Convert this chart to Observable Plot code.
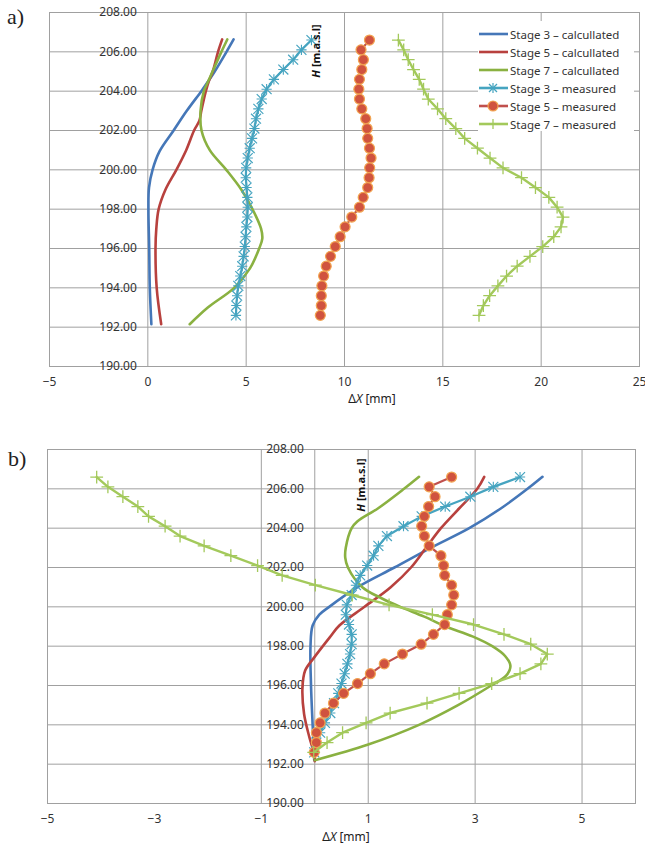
<!DOCTYPE html>
<html><head><meta charset="utf-8">
<script src="https://cdn.jsdelivr.net/npm/d3@7"></script>
<script src="https://cdn.jsdelivr.net/npm/@observablehq/plot@0.6"></script>
<style>
body{margin:0;background:#fff;font-family:"Noto Sans",sans-serif;}
#wrap{position:relative;width:645px;height:844px;overflow:hidden;background:#fff;}
.panel{position:absolute;left:0;}
.plab{position:absolute;font-family:"Liberation Serif","DejaVu Serif",serif;font-size:22px;color:#222;line-height:1;}
.hlab{position:absolute;font-family:"Noto Sans",sans-serif;font-weight:bold;font-size:11px;color:#111;transform:translate(-50%,-50%) rotate(-90deg);white-space:nowrap;}
.xlab{position:absolute;font-family:"Noto Sans",sans-serif;font-size:12px;color:#222;transform:translate(-50%,-50%);white-space:nowrap;}
#legend{position:absolute;left:478px;top:21px;width:156px;height:110px;background:#fff;font-family:"Noto Sans",sans-serif;font-size:11.5px;color:#333;}
.lrow{position:absolute;left:0;height:18px;display:flex;align-items:center;white-space:nowrap;}
.lrow svg{margin-right:1px;}
</style>
</head><body>
<div id="wrap"></div>
<script>
// ---------- data ----------
const measuredH = [206.6, 206.1, 205.6, 205.1, 204.6, 204.1, 203.6, 203.1, 202.6, 202.1, 201.6, 201.1, 200.6, 200.1, 199.6, 199.1, 198.6, 198.1, 197.6, 197.1, 196.6, 196.1, 195.6, 195.1, 194.6, 194.1, 193.6, 193.1, 192.6];

// panel a
const aS3calcH = [206.63, 206.0, 205.0, 204.5, 204.0, 203.0, 202.0, 200.95, 200.0, 199.1, 198.0, 196.0, 194.0, 192.15];
const aS3calcX = [4.36, 4.0, 3.4, 3.07, 2.72, 1.98, 1.31, 0.6, 0.24, 0.06, 0.03, 0.07, 0.1, 0.18];
const aS5calcH = [206.63, 206.0, 205.0, 204.5, 204.0, 203.0, 202.5, 202.0, 201.0, 200.0, 199.0, 198.0, 197.0, 196.0, 194.0, 192.15];
const aS5calcX = [3.78, 3.57, 3.30, 3.10, 2.95, 2.72, 2.62, 2.35, 1.95, 1.45, 0.90, 0.55, 0.43, 0.39, 0.45, 0.68];
const aS7calcH = [206.63, 206.0, 205.0, 204.5, 204.0, 203.0, 202.0, 201.0, 200.0, 199.0, 198.0, 197.0, 196.5, 196.0, 195.0, 194.0, 193.0, 192.15];
const aS7calcX = [4.04, 3.74, 3.29, 3.07, 2.85, 2.68, 2.73, 3.15, 3.99, 4.75, 5.32, 5.76, 5.82, 5.66, 5.2, 4.39, 3.05, 2.13];
const aS3meas = [8.32, 7.81, 7.39, 6.89, 6.41, 6.04, 5.79, 5.62, 5.50, 5.42, 5.30, 5.18, 5.08, 5.00, 4.98, 5.02, 5.06, 5.08, 5.06, 5.01, 4.97, 4.93, 4.87, 4.80, 4.70, 4.60, 4.54, 4.50, 4.48];
const aS5meas = [11.27, 10.84, 10.96, 10.88, 10.76, 10.73, 10.76, 10.88, 11.08, 11.15, 11.18, 11.27, 11.35, 11.28, 11.25, 11.18, 10.95, 10.76, 10.37, 10.03, 9.78, 9.53, 9.29, 9.07, 8.94, 8.85, 8.82, 8.82, 8.77];
const aS7meas = [12.74, 13.01, 13.24, 13.51, 13.80, 14.02, 14.26, 14.73, 15.15, 15.66, 16.11, 16.76, 17.40, 18.06, 19.00, 19.71, 20.39, 20.81, 21.11, 21.01, 20.64, 20.08, 19.43, 18.78, 18.24, 17.80, 17.38, 17.06, 16.84];

// panel b
const bS3calcH = [206.61, 206.0, 205.0, 204.0, 203.0, 202.0, 201.0, 200.0, 199.6, 199.05, 198.0, 196.0, 194.0, 192.2];
const bS3calcX = [4.26, 3.98, 3.48, 2.89, 2.17, 1.49, 0.80, 0.27, 0.085, -0.04, -0.08, -0.07, -0.04, -0.01];
const bS5calcH = [206.61, 206.0, 205.0, 204.0, 203.0, 202.0, 201.0, 200.0, 199.05, 198.45, 197.43, 196.76, 195.9, 194.55, 193.36, 192.5, 192.15];
const bS5calcX = [3.17, 3.04, 2.70, 2.36, 2.08, 1.80, 1.42, 0.93, 0.46, 0.28, -0.01, -0.18, -0.23, -0.20, -0.10, -0.01, 0.0];
const bS7calcH = [206.61, 206.0, 205.0, 204.35, 204.0, 203.0, 202.5, 202.0, 201.0, 200.45, 200.0, 199.5, 199.0, 198.5, 198.0, 197.5, 197.0, 196.5, 196.0, 195.0, 194.0, 193.0, 192.2];
const bS7calcX = [1.95, 1.67, 1.18, 0.80, 0.69, 0.58, 0.57, 0.62, 0.89, 1.24, 1.6, 2.05, 2.45, 2.95, 3.32, 3.56, 3.66, 3.58, 3.30, 2.68, 1.95, 1.0, 0.0];
const bS3meas = [3.84, 3.34, 2.91, 2.44, 2.00, 1.66, 1.35, 1.19, 1.10, 0.98, 0.85, 0.77, 0.69, 0.60, 0.58, 0.64, 0.69, 0.69, 0.66, 0.61, 0.56, 0.50, 0.44, 0.36, 0.29, 0.19, 0.10, 0.03, -0.01];
const bS5meas = [2.56, 2.14, 2.25, 2.13, 2.05, 2.00, 2.05, 2.14, 2.36, 2.41, 2.43, 2.56, 2.60, 2.56, 2.48, 2.43, 2.22, 1.99, 1.64, 1.30, 1.04, 0.80, 0.54, 0.35, 0.19, 0.10, 0.03, 0.03, -0.01];
const bS7meas = [-4.08, -3.87, -3.59, -3.31, -3.11, -2.80, -2.52, -2.07, -1.57, -1.07, -0.61, 0.01, 0.70, 1.39, 2.20, 2.97, 3.54, 4.04, 4.35, 4.23, 3.84, 3.31, 2.70, 2.10, 1.41, 0.96, 0.52, 0.23, -0.02];

// ticks
const yTicks = [190, 192, 194, 196, 198, 200, 202, 204, 206, 208];
const xTicksA = [-5, 0, 5, 10, 15, 20, 25];
const xGridA = [0, 5, 10, 15, 20];
const xTicksB = [-5, -3, -1, 1, 3, 5];
const xGridB = [-1, 0, 1, 3, 5];

const seriesNames = ["Stage 3 \u2013 calcullated", "Stage 5 \u2013 calcullated", "Stage 7 \u2013 calcullated", "Stage 3 \u2013 measured", "Stage 5 \u2013 measured", "Stage 7 \u2013 measured"];

// ---------- styles ----------
const C = {s3c: "#4577B8", s5c: "#B8413E", s7c: "#8AB141", s3m: "#46A4C0", s5mLine: "#C0504D", s5mFill: "#D0533F", s5mStroke: "#F2A451", s7m: "#A3C95B"};
const GRID = "#a0a0a0";
const fmtX = d => d < 0 ? "\u2212" + Math.abs(d) : String(d);
const rows = (H, X) => H.map((h, i) => ({h, x: X[i]}));

function makePanel(cfg) {
  return Plot.plot({
    width: 645, height: cfg.height,
    marginLeft: cfg.ml, marginRight: cfg.mr, marginTop: cfg.mt, marginBottom: cfg.mb,
    x: {domain: cfg.xDomain},
    y: {domain: [190, 208], axis: null},
    style: {fontFamily: "Noto Sans", fontSize: "12px", color: "#333", background: "transparent", overflow: "visible"},
    marks: [
      Plot.gridX(cfg.xGrid, {stroke: GRID, strokeOpacity: 1}),
      Plot.gridY(yTicks, {stroke: GRID, strokeOpacity: 1}),
      Plot.frame({stroke: GRID}),
      Plot.axisX(cfg.xTicks, {tickSize: 0, tickPadding: 11, tickFormat: fmtX, label: null, fill: "#333"}),
      Plot.text(yTicks, {x: () => 0, y: d => d, text: d => d.toFixed(2), textAnchor: "end", dx: -11, fill: "#333"}),
      Plot.line(rows(cfg.s3cH, cfg.s3cX), {x: "x", y: "h", stroke: C.s3c, strokeWidth: 2.6, curve: "catmull-rom"}),
      Plot.line(rows(cfg.s5cH, cfg.s5cX), {x: "x", y: "h", stroke: C.s5c, strokeWidth: 2.6, curve: "catmull-rom"}),
      Plot.line(rows(cfg.s7cH, cfg.s7cX), {x: "x", y: "h", stroke: C.s7c, strokeWidth: 2.6, curve: "catmull-rom"}),
      Plot.line(rows(measuredH, cfg.s3m), {x: "x", y: "h", stroke: C.s3m, strokeWidth: 2.2}),
      Plot.dot(rows(measuredH, cfg.s3m), {x: "x", y: "h", symbol: "times", r: 4.6, stroke: C.s3m, strokeWidth: 1.2, fill: "none"}),
      Plot.dot(rows(measuredH, cfg.s3m), {x: "x", y: "h", symbol: "plus", r: 3.4, stroke: C.s3m, strokeWidth: 1.1, fill: "none"}),
      Plot.line(rows(measuredH, cfg.s5m), {x: "x", y: "h", stroke: C.s5mLine, strokeWidth: 2.2}),
      Plot.dot(rows(measuredH, cfg.s5m), {x: "x", y: "h", r: 5, fill: C.s5mFill, stroke: C.s5mStroke, strokeWidth: 1.2}),
      Plot.line(rows(measuredH, cfg.s7m), {x: "x", y: "h", stroke: C.s7m, strokeWidth: 2.4}),
      Plot.dot(rows(measuredH, cfg.s7m), {x: "x", y: "h", symbol: "plus", r: 4.2, stroke: C.s7m, strokeWidth: 1.3})
    ]
  });
}

const wrap = document.getElementById("wrap");

const pa = makePanel({height: 410, ml: 49, mr: 6, mt: 12, mb: 44, xDomain: [-5, 25], xTicks: xTicksA, xGrid: xGridA,
  s3cH: aS3calcH, s3cX: aS3calcX, s5cH: aS5calcH, s5cX: aS5calcX, s7cH: aS7calcH, s7cX: aS7calcX,
  s3m: aS3meas, s5m: aS5meas, s7m: aS7meas});
pa.classList.add("panel"); pa.style.top = "0px";
wrap.appendChild(pa);

const pb = makePanel({height: 407, ml: 47, mr: 10, mt: 12, mb: 41, xDomain: [-5, 6], xTicks: xTicksB, xGrid: xGridB,
  s3cH: bS3calcH, s3cX: bS3calcX, s5cH: bS5calcH, s5cX: bS5calcX, s7cH: bS7calcH, s7cX: bS7calcX,
  s3m: bS3meas, s5m: bS5meas, s7m: bS7meas});
pb.classList.add("panel"); pb.style.top = "437px";
wrap.appendChild(pb);

function addDiv(cls, html, left, top) {
  const d = document.createElement("div");
  d.className = cls; d.innerHTML = html;
  d.style.left = left + "px"; d.style.top = top + "px";
  wrap.appendChild(d); return d;
}
addDiv("plab", "a)", 7, 6);
addDiv("plab", "b)", 8, 448);
const hText = '<i>H</i> [m.a.s.l]';
addDiv("hlab", hText, 315, 51);
addDiv("hlab", hText, 360, 485);
const xText = '\u0394<i>X</i> [mm]';
addDiv("xlab", xText, 372, 398);
addDiv("xlab", xText, 346, 836);

// legend
const leg = document.createElement("div"); leg.id = "legend"; wrap.appendChild(leg);
const legStyles = [
  {c: C.s3c, m: null}, {c: C.s5c, m: null}, {c: C.s7c, m: null},
  {c: C.s3m, m: "star"}, {c: C.s5mLine, m: "circle"}, {c: C.s7m, m: "plus"}
];
seriesNames.forEach((name, i) => {
  const r = document.createElement("div"); r.className = "lrow";
  r.style.top = (4 + i * 18) + "px";
  const st = legStyles[i];
  let marker = "";
  if (st.m === "star") marker = `<g stroke="${st.c}" stroke-width="1.2"><line x1="11" y1="5" x2="19" y2="13"/><line x1="19" y1="5" x2="11" y2="13"/><line x1="15" y1="4" x2="15" y2="14"/></g>`;
  if (st.m === "circle") marker = `<circle cx="15" cy="9" r="5" fill="${C.s5mFill}" stroke="${C.s5mStroke}" stroke-width="1.2"/>`;
  if (st.m === "plus") marker = `<g stroke="${st.c}" stroke-width="1.3"><line x1="10" y1="9" x2="20" y2="9"/><line x1="15" y1="4" x2="15" y2="14"/></g>`;
  r.innerHTML = `<svg width="31" height="18"><line x1="1" y1="9" x2="30" y2="9" stroke="${st.c}" stroke-width="2.6"/>${marker}</svg><span>${name}</span>`;
  leg.appendChild(r);
});
</script>
</body></html>
